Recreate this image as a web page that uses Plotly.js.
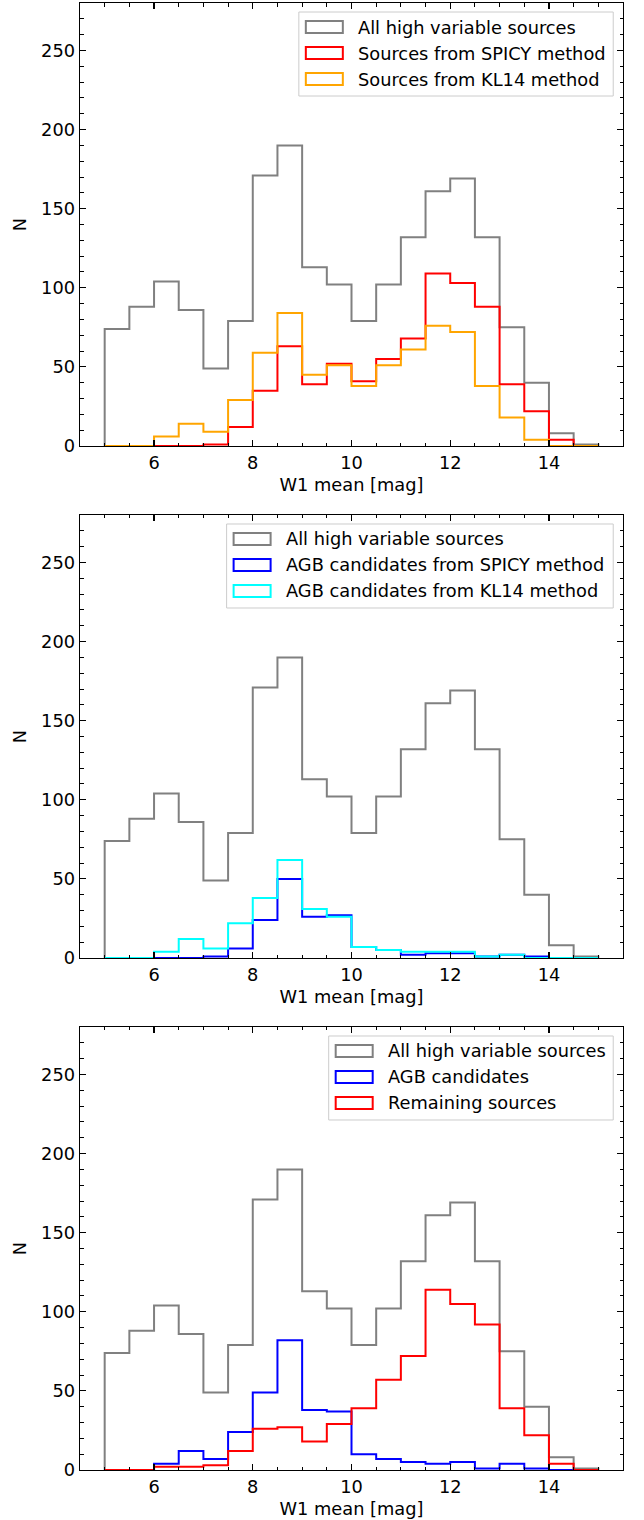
<!DOCTYPE html>
<html>
<head>
<meta charset="utf-8">
<script src="https://cdn.plot.ly/plotly-3.0.1.min.js"></script>
<style>html,body{margin:0;padding:0;background:#fff;}</style>
</head>
<body>
<div id="chart" style="width:644px;height:1520px;"></div>
<script>
// Bin edges of the W1 mean histograms (0.5 mag bins from 5 to 15)
const binEdges = [5,5.5,6,6.5,7,7.5,8,8.5,9,9.5,10,10.5,11,11.5,12,12.5,13,13.5,14,14.5,15];

// Counts per bin
const allHighVar   = [74,88,104,86,49,79,171,190,113,102,79,102,132,161,169,132,75,40,8,1];
const spicySources = [0,0,0,0,1,12,35,63,39,52,41,55,68,109,103,88,39,22,4,0];
const kl14Sources  = [0,0,6,14,9,29,59,84,45,51,38,51,61,76,72,38,18,4,0,0];
const agbSpicy     = [0,0,0,0,1,6,24,50,26,27,7,5,2,3,3,1,2,1,0,0];
const agbKl14      = [0,0,4,12,6,22,38,62,31,26,7,5,4,4,4,1,2,0,0,0];
const agbAll       = [0,0,4,12,7,24,49,82,38,37,10,7,5,4,5,1,4,1,0,0];
const remaining    = [0,0,2,2,3,12,26,27,18,29,39,57,72,114,105,92,39,22,4,0];

const labelsTop = ["All high variable sources","Sources from SPICY method","Sources from KL14 method"];
const labelsMid = ["All high variable sources","AGB candidates from SPICY method","AGB candidates from KL14 method"];
const labelsBot = ["All high variable sources","AGB candidates","Remaining sources"];

const xTitle = "W1 mean [mag]";
const yTitle = "N";

const FONT = "DejaVu Sans, Liberation Sans, sans-serif";
const FS = 17.8;

// Step outline (matplotlib histtype='step') from edges and counts
function stepTrace(counts, color, xa, ya, name) {
  const xs = [binEdges[0]];
  const ys = [0];
  for (let i = 0; i < counts.length; i++) { xs.push(binEdges[i]); ys.push(counts[i]); }
  xs.push(binEdges[binEdges.length-1]); ys.push(counts[counts.length-1]);
  xs.push(binEdges[binEdges.length-1]); ys.push(0);
  return {type:'scatter', mode:'lines', x:xs, y:ys, name:name, showlegend:false,
          line:{color:color, width:2, shape:'hv'}, xaxis:xa, yaxis:ya, hoverinfo:'skip'};
}

const panels = [
  {xa:'x',  ya:'y',  series:[allHighVar, spicySources, kl14Sources], colors:['#808080','#ff0000','#ffa500'], labels:labelsTop, boxLeft:0.403},
  {xa:'x2', ya:'y2', series:[allHighVar, agbSpicy, agbKl14],         colors:['#808080','#0000ff','#00ffff'], labels:labelsMid, boxLeft:0.270},
  {xa:'x3', ya:'y3', series:[allHighVar, agbAll, remaining],         colors:['#808080','#0000ff','#ff0000'], labels:labelsBot, boxLeft:0.458}
];

const traces = [];
const shapes = [];
const annotations = [];
const AX_W = 543, AX_H = 443;

panels.forEach(p => {
  p.series.forEach((s, i) => traces.push(stepTrace(s, p.colors[i], p.xa, p.ya, p.labels[i])));
  const xr = p.xa + ' domain', yr = p.ya + ' domain';
  const fy = px => 1 - px / AX_H;
  const fx = px => px / AX_W;
  // legend frame
  shapes.push({type:'rect', xref:xr, yref:yr, x0:p.boxLeft, x1:0.982, y0:fy(93), y1:fy(9),
               line:{color:'#cccccc', width:1}, fillcolor:'rgba(255,255,255,0.8)', layer:'above'});
  const rows = [24, 50, 76];
  p.labels.forEach((lab, i) => {
    shapes.push({type:'rect', xref:xr, yref:yr, x0:p.boxLeft + fx(7), x1:p.boxLeft + fx(44),
                 y0:fy(rows[i] + 6), y1:fy(rows[i] - 6),
                 line:{color:p.colors[i], width:2}, fillcolor:'rgba(0,0,0,0)', layer:'above'});
    annotations.push({xref:xr, yref:yr, x:p.boxLeft + fx(57), y:fy(rows[i]), text:lab,
                      showarrow:false, xanchor:'left', yanchor:'middle',
                      font:{family:FONT, size:FS, color:'#000'}});
  });
});

function xAxis(anchor) {
  return {anchor:anchor, domain:[0,1], range:[4.5,15.5], tick0:0, dtick:2,
          ticks:'inside', ticklen:6, tickwidth:1.2, tickcolor:'#000',
          minor:{dtick:0.5, tick0:0, ticks:'inside', ticklen:3.5, tickwidth:1, tickcolor:'#000', showgrid:false},
          showline:true, linecolor:'#000', linewidth:1.4, mirror:'allticks',
          showgrid:false, zeroline:false,
          tickfont:{family:FONT, size:FS, color:'#000'},
          title:{text:xTitle, font:{family:FONT, size:FS, color:'#000'}, standoff:6}};
}
function yAxis(anchor, dom) {
  return {anchor:anchor, domain:dom, range:[0,280], tick0:0, dtick:50,
          ticks:'inside', ticklen:6, tickwidth:1.2, tickcolor:'#000',
          minor:{dtick:10, tick0:0, ticks:'inside', ticklen:3.5, tickwidth:1, tickcolor:'#000', showgrid:false},
          showline:true, linecolor:'#000', linewidth:1.4, mirror:'allticks',
          showgrid:false, zeroline:false,
          tickfont:{family:FONT, size:FS, color:'#000'},
          title:{text:yTitle, font:{family:FONT, size:FS, color:'#000'}, standoff:10}};
}

const layout = {
  width:644, height:1520,
  margin:{l:80, r:21, t:3, b:50},
  paper_bgcolor:'#fff', plot_bgcolor:'#fff',
  showlegend:false,
  font:{family:FONT, size:FS, color:'#000'},
  xaxis: xAxis('y'),
  yaxis: yAxis('x', [0.69802, 1]),
  xaxis2: xAxis('y2'),
  yaxis2: yAxis('x2', [0.34901, 0.65099]),
  xaxis3: xAxis('y3'),
  yaxis3: yAxis('x3', [0, 0.30198]),
  shapes: shapes,
  annotations: annotations
};

Plotly.newPlot('chart', traces, layout, {displayModeBar:false, staticPlot:true});
</script>
</body>
</html>
